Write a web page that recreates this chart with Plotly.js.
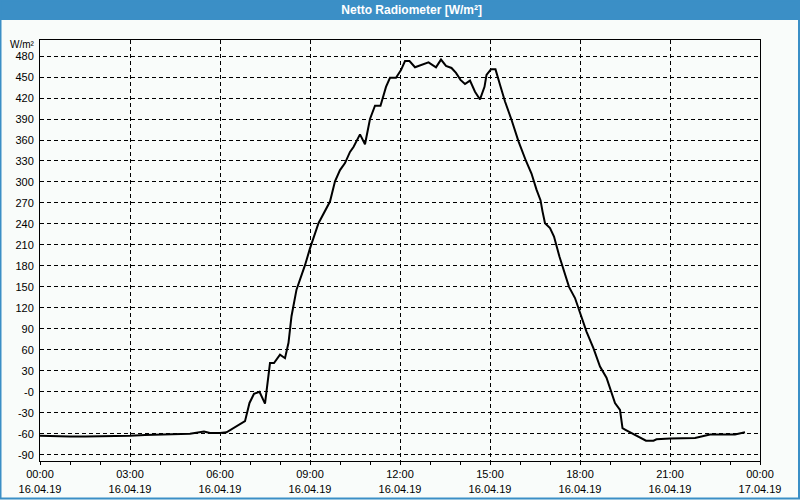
<!DOCTYPE html>
<html>
<head>
<meta charset="utf-8">
<script src="https://cdn.plot.ly/plotly-3.0.1.min.js"></script>
<style>
html,body{margin:0;padding:0;background:#f9fcfa;}
#chart{width:800px;height:500px;}
</style>
</head>
<body>
<div id="chart"></div>
<script>
// Time stamps (16.04.19) and net radiation values [W/m²]
const times = [
  "00:00","00:30","01:00","01:30","02:00","02:30","03:00","03:30","04:00","04:30",
  "05:00","05:28","05:40","06:00","06:13","06:50","06:59","07:08","07:19","07:30",
  "07:40","07:48","08:00","08:10","08:17","08:23","08:30","08:33","08:50","09:00",
  "09:17","09:40","09:50","10:00","10:10","10:20","10:27","10:40","10:50","11:00",
  "11:10","11:21","11:32","11:40","11:52","12:02","12:10","12:19","12:30","12:40",
  "12:57","13:12","13:22","13:32","13:43","13:52","14:01","14:10","14:20","14:30",
  "14:40","14:49","14:53","15:02","15:11","15:20","15:30","15:43","15:57","16:12",
  "16:23","16:33","16:41","16:45","16:50","17:00","17:08","17:19","17:30","17:38",
  "17:50","18:00","18:13","18:27","18:40","18:53","19:03","19:10","19:20","19:25",
  "19:30","19:40","20:00","20:12","20:27","20:33","21:00","21:50","22:20","23:10",
  "23:30"
];
const values = [
  -63,-64,-64,-64,-64,-63,-63,-62,-61,-60,
  -60,-57,-59,-59,-58,-42,-16,-3,0,-17,
  41,41,53,48,70,108,139,146,181,205,
  241,272,301,317,327,343,350,368,354,390,
  409,409,436,449,449,460,473,473,464,467,
  471,464,475,466,463,456,446,440,445,429,
  418,436,453,461,461,439,415,389,358,330,
  312,289,274,258,241,234,222,193,167,150,
  134,112,86,62,36,20,-2,-16,-26,-52,
  -54,-58,-65,-70,-70,-68,-67,-66,-61,-61,
  -58
];
const day = "2019-04-16";
const yTickVals = [-90,-60,-30,0,30,60,90,120,150,180,210,240,270,300,330,360,390,420,450,480];
const yTickLabels = ["-90","-60","-30","-0","30","60","90","120","150","180","210","240","270","300","330","360","390","420","450","480"];
const titleText = "Netto Radiometer [W/m²]";
const unitText = "W/m²";

const xs = times.map(t => day + " " + t);

const W = 800, H = 500, mL = 40, mR = 40, mT = 40, mB = 39;
const pw = W - mL - mR, ph = H - mT - mB;
const px = p => (p - mL) / pw;
const py = p => 1 - (p - mT) / ph;

const blue = "#3b8fc6";
const font = "Liberation Sans, Arial, sans-serif";

const trace = {
  x: xs, y: values, type: "scatter", mode: "lines",
  line: {color: "#000000", width: 2},
  hoverinfo: "x+y"
};

const layout = {
  width: W, height: H,
  margin: {l: mL, r: mR, t: mT, b: mB, pad: 0},
  paper_bgcolor: "#f9fcfa",
  plot_bgcolor: "#f9fcfa",
  showlegend: false,
  font: {family: font, size: 11, color: "#000000"},
  title: {
    text: "<b>" + titleText + "</b>",
    x: 413 / W, xanchor: "center", xref: "paper",
    y: 1 - 10 / H, yanchor: "middle", yref: "container",
    font: {family: font, size: 12, color: "#ffffff"}
  },
  xaxis: {
    type: "date",
    range: [day + " 00:00", "2019-04-17 00:00"],
    tick0: day + " 00:00",
    dtick: 3 * 3600000,
    tickformat: "%H:%M<br>%d.%m.%y",
    ticks: "outside", ticklen: 3, tickcolor: "#000",
    minor: {dtick: 3600000, ticks: "outside", ticklen: 3, tickcolor: "#000", showgrid: false},
    showgrid: true, gridcolor: "#000000", griddash: "4px,3px", gridwidth: 1,
    showline: true, linecolor: "#000000", linewidth: 1, mirror: true,
    zeroline: false,
    tickfont: {family: font, size: 11, color: "#000"},
    fixedrange: true
  },
  yaxis: {
    range: [-99, 503],
    tickmode: "array",
    tickvals: yTickVals,
    ticktext: yTickLabels,
    ticks: "", ticklabelstandoff: 3,
    showgrid: true, gridcolor: "#000000", griddash: "4px,3px", gridwidth: 1,
    showline: true, linecolor: "#000000", linewidth: 1, mirror: true,
    zeroline: false,
    tickfont: {family: font, size: 11, color: "#000"},
    fixedrange: true
  },
  shapes: [
    {type: "rect", xref: "paper", yref: "paper",
     x0: px(0), x1: px(W), y0: py(0), y1: py(20),
     fillcolor: blue, line: {width: 0}, layer: "below"},
    {type: "rect", xref: "paper", yref: "paper",
     x0: px(0.5), x1: px(W - 1), y0: py(0.5), y1: py(H - 1.5),
     fillcolor: "rgba(0,0,0,0)", line: {color: blue, width: 2}, layer: "above"}
  ],
  annotations: [
    {text: unitText, xref: "paper", yref: "paper", x: px(37), y: py(44),
     xanchor: "right", yanchor: "middle", showarrow: false,
     font: {family: font, size: 10, color: "#000"}}
  ]
};

Plotly.newPlot("chart", [trace], layout, {displayModeBar: false, staticPlot: true});
</script>
</body>
</html>
